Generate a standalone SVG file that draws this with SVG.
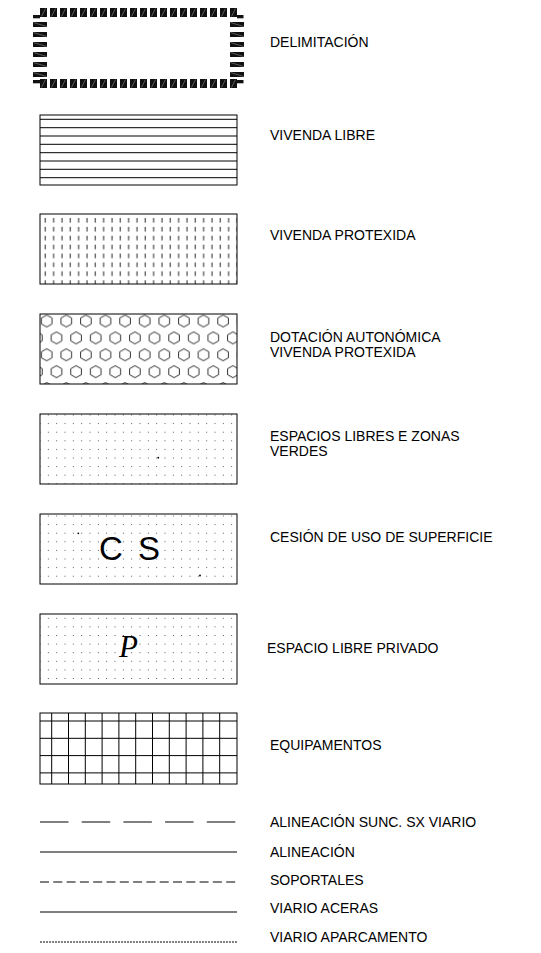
<svg xmlns="http://www.w3.org/2000/svg" width="541" height="953" viewBox="0 0 541 953">
<style>
.lbl{font-family:"Liberation Sans",Arial,sans-serif;font-size:14px;fill:#000}
.box{fill:none;stroke:#000;stroke-width:1}
.ln{stroke:#000;stroke-width:1;fill:none}
</style>
<defs>
<pattern id="dh" patternUnits="userSpaceOnUse" x="0" y="0" width="10" height="9">
<rect x="0" y="0" width="7" height="9" fill="#111"/>
<line x1="1.5" y1="8.5" x2="5.5" y2="0.5" stroke="#888" stroke-width="0.6"/>
</pattern>
<pattern id="dv" patternUnits="userSpaceOnUse" x="0" y="0" width="14" height="10">
<rect x="0" y="0" width="14" height="5" fill="#111"/>
<line x1="0.5" y1="0.5" x2="13.5" y2="4.5" stroke="#888" stroke-width="0.6"/>
</pattern>
<pattern id="vd" patternUnits="userSpaceOnUse" x="3.3" y="0" width="8.333" height="8.9">
<line x1="2" y1="4" x2="2" y2="8.6" stroke="#000" stroke-width="0.9"/>
</pattern>
<pattern id="hx" patternUnits="userSpaceOnUse" x="-3.1" y="-1.45" width="19.6" height="33.8">
<g fill="none" stroke="#000" stroke-width="0.8">
<path d="M9.8,2.45 L15.1,5.45 L15.1,11.45 L9.8,14.45 L4.5,11.45 L4.5,5.45 Z"/>
<path d="M0,19.35 L5.3,22.35 L5.3,28.35 L0,31.35 L-5.3,28.35 L-5.3,22.35 Z"/>
<path d="M19.6,19.35 L24.9,22.35 L24.9,28.35 L19.6,31.35 L14.3,28.35 L14.3,22.35 Z"/>
</g>
</pattern>
<pattern id="dots" patternUnits="userSpaceOnUse" x="-4.167" y="-4.3" width="8.333" height="8.6">
<circle cx="4.167" cy="4.3" r="0.55" fill="#333"/>
</pattern>
</defs>

<g id="delimitacion">
<g transform="translate(40,8)"><rect x="0" y="0" width="197" height="9" fill="url(#dh)"/></g>
<g transform="translate(40,79)"><rect x="0" y="0" width="197" height="9" fill="url(#dh)"/></g>
<g transform="translate(33,22)"><rect x="0" y="0" width="14" height="55" fill="url(#dv)"/></g>
<g transform="translate(230,22)"><rect x="0" y="0" width="14" height="55" fill="url(#dv)"/></g>
<rect x="33" y="15" width="7" height="3.3" fill="#111"/>
<rect x="237" y="15" width="6.5" height="3.3" fill="#111"/>
<rect x="33" y="80" width="7" height="3.3" fill="#111"/>
<rect x="237" y="80" width="6.5" height="3.3" fill="#111"/>
<text class="lbl" x="270" y="47">DELIMITACIÓN</text>
</g>

<g id="vivenda-libre">
<rect class="box" x="40" y="115" width="197" height="70"/>
<path class="ln" d="M40,119.3H237M40,127.7H237M40,136H237M40,144.3H237M40,152.7H237M40,161H237M40,169.3H237M40,177.7H237"/>
<text class="lbl" x="270" y="140">VIVENDA LIBRE</text>
</g>

<g id="vivenda-protexida">
<g transform="translate(40,214)"><rect x="0" y="0" width="197" height="70" fill="url(#vd)"/></g>
<rect class="box" x="40" y="214" width="197" height="70"/>
<text class="lbl" x="270" y="240">VIVENDA PROTEXIDA</text>
</g>

<g id="dotacion-autonomica">
<g transform="translate(40,314)"><rect x="0" y="0" width="197" height="70" fill="url(#hx)"/></g>
<rect class="box" x="40" y="314" width="197" height="70"/>
<text class="lbl" x="270" y="342">DOTACIÓN AUTONÓMICA</text>
<text class="lbl" x="270" y="357">VIVENDA PROTEXIDA</text>
</g>

<g id="espacios-libres">
<g transform="translate(40,415)"><rect x="0" y="-1" width="197" height="70" fill="url(#dots)"/></g>
<circle cx="158.3" cy="457.7" r="0.9" fill="#000"/>
<rect class="box" x="40" y="414" width="197" height="70"/>
<text class="lbl" x="270" y="441">ESPACIOS LIBRES E ZONAS</text>
<text class="lbl" x="270" y="456">VERDES</text>
</g>

<g id="cesion-uso">
<g transform="translate(40,516)"><rect x="0" y="-2" width="197" height="70" fill="url(#dots)"/></g>
<circle cx="78.3" cy="533.3" r="0.9" fill="#000"/>
<circle cx="200" cy="575.5" r="0.9" fill="#000"/>
<rect class="box" x="40" y="514" width="197" height="70"/>
<text x="99" y="560" font-family="Liberation Sans,Arial,sans-serif" font-size="33" word-spacing="6" fill="#000">C S</text>
<text class="lbl" x="270" y="542">CESIÓN DE USO DE SUPERFICIE</text>
</g>

<g id="espacio-libre-privado">
<g transform="translate(40,618.3)"><rect x="0" y="-4.3" width="197" height="70" fill="url(#dots)"/></g>
<rect class="box" x="40" y="614" width="197" height="70"/>
<text x="119" y="657" font-family="Liberation Serif,Times New Roman,serif" font-style="italic" font-size="31" fill="#000">P</text>
<text class="lbl" x="267" y="653">ESPACIO LIBRE PRIVADO</text>
</g>

<g id="equipamentos">
<rect class="box" x="40" y="713" width="197" height="71"/>
<path class="ln" d="M40,721H237M40,738.3H237M40,755.6H237M40,772.9H237M51.7,713V784M68.5,713V784M85.3,713V784M102.1,713V784M118.9,713V784M135.7,713V784M152.5,713V784M169.3,713V784M186.1,713V784M202.9,713V784M219.7,713V784"/>
<text class="lbl" x="270" y="750">EQUIPAMENTOS</text>
</g>

<g id="alineacion-sunc">
<line class="ln" x1="40" y1="822" x2="237" y2="822" stroke-dasharray="28.5 13.2"/>
<text class="lbl" x="270" y="827">ALINEACIÓN SUNC. SX VIARIO</text>
</g>
<g id="alineacion">
<line class="ln" x1="40" y1="852" x2="237" y2="852"/>
<text class="lbl" x="270" y="857">ALINEACIÓN</text>
</g>
<g id="soportales">
<line class="ln" x1="40" y1="882" x2="237" y2="882" stroke-dasharray="9 4.3"/>
<text class="lbl" x="270" y="885">SOPORTALES</text>
</g>
<g id="viario-aceras">
<line class="ln" x1="40" y1="912" x2="237" y2="912"/>
<text class="lbl" x="270" y="913">VIARIO ACERAS</text>
</g>
<g id="viario-aparcamento">
<line class="ln" x1="40" y1="942" x2="237" y2="942" stroke-dasharray="2 1"/>
<text class="lbl" x="270" y="942">VIARIO APARCAMENTO</text>
</g>
</svg>
